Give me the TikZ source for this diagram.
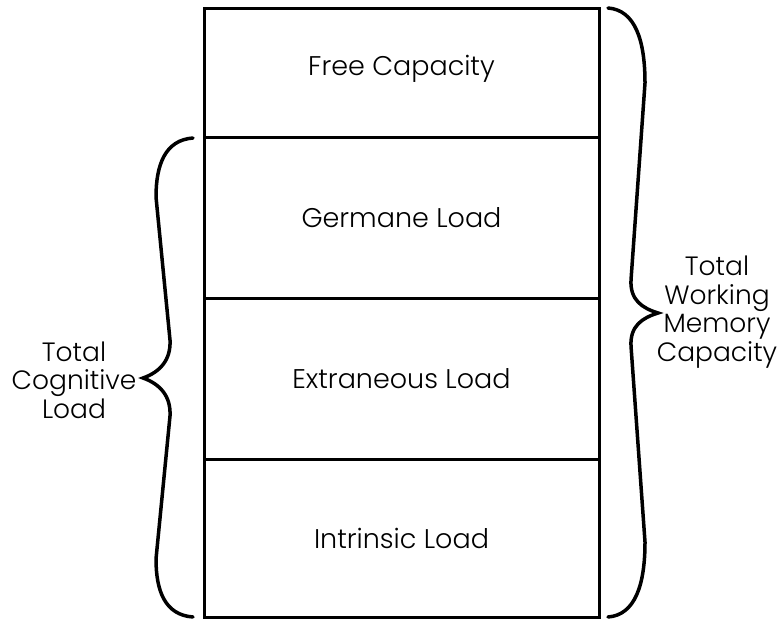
\documentclass[tikz,border=0pt]{standalone}
\usepackage{fontspec}
\setmainfont{Poppins}[UprightFont={* Light}]
\usetikzlibrary{positioning}

\begin{document}
\begin{tikzpicture}[x=1pt,y=-1pt]
  \useasboundingbox (0,0) rectangle (778,621);
  \tikzstyle{layer} = [draw,line width=3pt,minimum width=395pt,outer sep=0pt,
                       inner sep=0pt,font=\fontsize{27}{29}\selectfont]
  \tikzstyle{brace} = [line width=3.5pt,line cap=round]
  \tikzstyle{side} = [align=center,font=\fontsize{26.5}{28.5}\selectfont]
  % stacked layers of the memory
  \node[layer,minimum height=129pt,text depth=14pt] (free) at (401.5,72.5) {Free Capacity};
  \node[layer,minimum height=161pt,below=0pt of free] (germ) {Germane Load};
  \node[layer,minimum height=161pt,below=0pt of germ] (extr) {Extraneous Load};
  \node[layer,minimum height=158pt,below=0pt of extr] (intr) {Intrinsic Load};
  % braces
  \coordinate (lbtip) at (143,378);
  \coordinate (rbtip) at (658,313);
  \draw[brace] (193,138) .. controls (165,140) and (156,165) .. (156,197)
    -- (170,340) .. controls (171,360) and (160,372) .. (lbtip)
    .. controls (160,384) and (171,396) .. (170,416)
    -- (156,559) .. controls (156,591) and (165,615) .. (193,617);
  \draw[brace] (608,8) .. controls (635,10) and (645,40) .. (645,83)
    -- (631,280) .. controls (630,300) and (642,308) .. (rbtip)
    .. controls (642,318) and (630,326) .. (631,346)
    -- (645,542) .. controls (645,585) and (635,615) .. (608,617);
  \node[side] (tcl) at (74,380) {Total\\Cognitive\\Load};
  \node[side] (twmc) at (717,312) {Total\\Working\\Memory\\Capacity};
\end{tikzpicture}
\end{document}
